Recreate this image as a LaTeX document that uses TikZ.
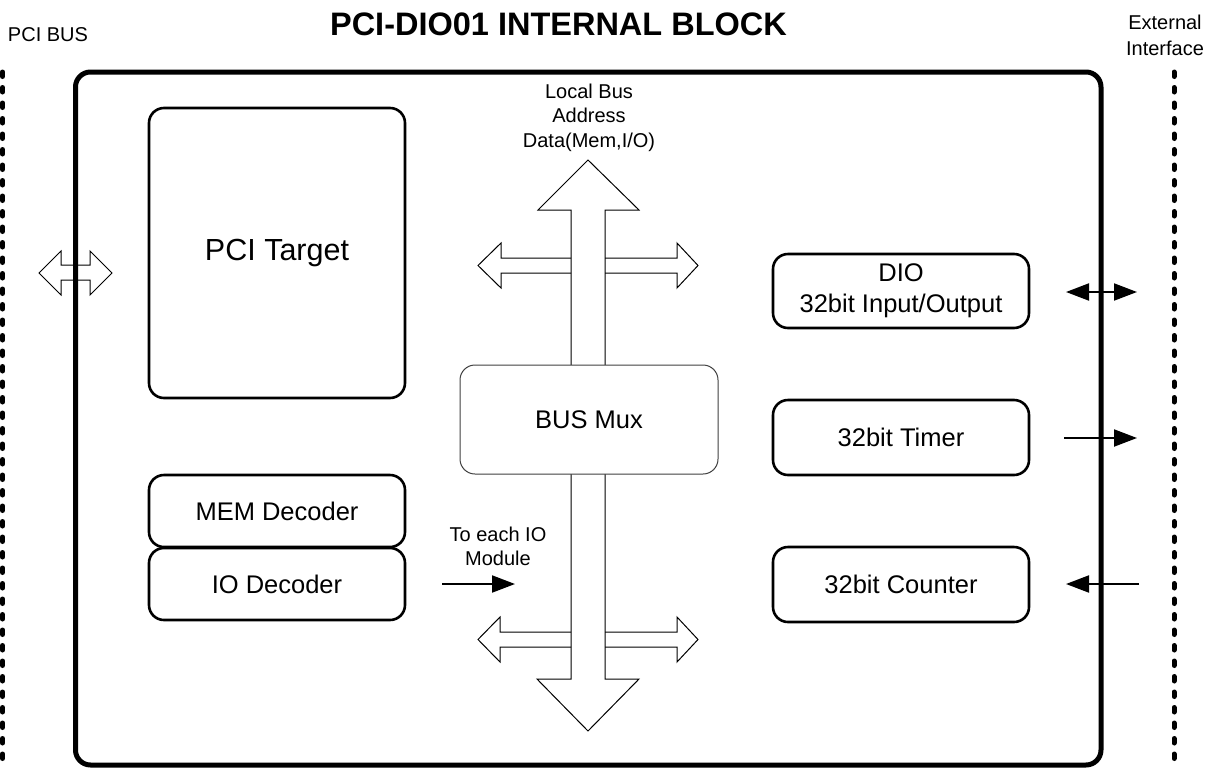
\documentclass[tikz,border=0pt]{standalone}
\usepackage{fontspec}
\setmainfont{Liberation Sans}
\usetikzlibrary{arrows.meta}
\begin{document}
\begin{tikzpicture}[x=1pt,y=-1pt,
  blk/.style={draw, line width=2.6pt, rounded corners=15pt, align=center, inner sep=0pt, font=\fontsize{25.5}{31}\selectfont},
  mux/.style={draw=black!75, fill=white, line width=1pt, rounded corners=15pt, inner sep=0pt, font=\fontsize{25.5}{31}\selectfont},
  hollow/.style={draw, line width=1pt, line join=miter},
  sigtip/.tip={Triangle[length=23pt,width=17pt]},
  sig/.style={line width=2pt},
  lbl/.style={font=\fontsize{20}{24.5}\selectfont, align=center, inner sep=0pt},
  busline/.style={line width=5pt, dash pattern=on 4.5pt off 11pt, line cap=round}
]
\useasboundingbox (0,0) rectangle (1208,769);

% PCI bus and external interface dotted lines
\draw[busline] (2.5,72) -- (2.5,769);
\draw[busline] (1174,72) -- (1174,762);

% PCI bus double hollow arrow
\draw[hollow] (39,273) -- (61,251) -- (61,265) -- (90,265) -- (90,251) -- (112,273)
  -- (90,295) -- (90,280) -- (61,280) -- (61,295) -- cycle;

% board outline
\node[draw, line width=5pt, rounded corners=15pt, minimum width=1025.5pt, minimum height=693pt, inner sep=0pt] (board) at (588.25,418.5) {};

% local bus: vertical hollow double arrow
\draw[hollow] (571,679) -- (571,210) -- (538,210) -- (588,160) -- (639,210) -- (605,210)
  -- (605,679) -- (639,679) -- (588,731) -- (537,679) -- cycle;
% side branches
\draw[hollow] (571,258) -- (501,258) -- (501,243) -- (478,265.5) -- (501,288) -- (501,273) -- (571,273);
\draw[hollow] (605,258) -- (677,258) -- (677,243) -- (698,265.5) -- (677,288) -- (677,273) -- (605,273);
\draw[hollow] (571,632) -- (500,632) -- (500,617) -- (478,639.5) -- (500,662) -- (500,647) -- (571,647);
\draw[hollow] (605,632) -- (677,632) -- (677,617) -- (698,639.5) -- (677,662) -- (677,647) -- (605,647);

% blocks
\node[blk, minimum width=256pt, minimum height=290pt, font=\fontsize{30.5}{36}\selectfont] (target) at (277,253) {PCI Target};
\node[blk, minimum width=256pt, minimum height=72pt] (mem) at (277,511) {MEM Decoder};
\node[blk, minimum width=256pt, minimum height=72pt] (iodec) at (277,584) {IO Decoder};
\node[mux, minimum width=258pt, minimum height=109pt] (mux) at (589,419.5) {BUS Mux};
\node[blk, minimum width=256pt, minimum height=74pt] (dio) at (901,291) {DIO\\32bit Input/Output};
\node[blk, minimum width=256pt, minimum height=75pt] (timer) at (901,437.5) {32bit Timer};
\node[blk, minimum width=256pt, minimum height=75pt] (counter) at (901,584.5) {32bit Counter};

% labels
\node[font=\fontsize{32.5}{38}\selectfont\bfseries, anchor=base, inner sep=0pt] (title) at (558.5,35) {PCI-DIO01 INTERNAL BLOCK};
\node[lbl, anchor=base] (pcibus) at (48,41.5) {PCI BUS};
\node[lbl, font=\fontsize{20}{26}\selectfont] (ext) at (1165,35.5) {External\\Interface};
\node[lbl] (local) at (589,117.5) {Local Bus\\Address\\Data(Mem,I/O)};
\node[lbl, font=\fontsize{20}{24}\selectfont] (toeach) at (498,546.7) {To each IO\\Module};

% signal arrows
\coordinate (dioL) at (1066,292);
\coordinate (dioR) at (1137,292);
\coordinate (tmL) at (1064,438);
\coordinate (tmR) at (1137,438);
\coordinate (ctR) at (1139,584);
\coordinate (ctL) at (1066,584);
\coordinate (ioA) at (442,584);
\coordinate (ioB) at (515,584);
\draw[sig, sigtip-sigtip] (dioL) -- (dioR);
\draw[sig, -sigtip] (tmL) -- (tmR);
\draw[sig, -sigtip] (ctR) -- (ctL);
\draw[sig, -sigtip] (ioA) -- (ioB);
\end{tikzpicture}
\end{document}
